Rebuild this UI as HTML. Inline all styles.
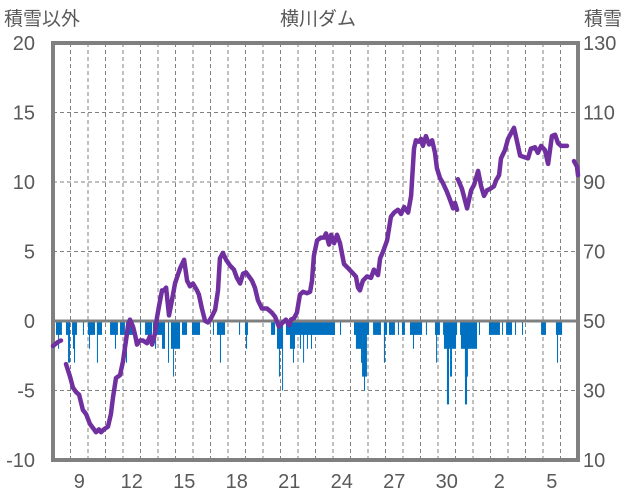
<!DOCTYPE html>
<html><head><meta charset="utf-8"><style>
body{margin:0;background:#fff;}
svg{display:block;font-family:"Liberation Sans","Noto Sans CJK JP",sans-serif;}
</style></head><body>
<svg id="chart" width="636" height="501">
<text x="4" y="25" font-size="19" fill="#595959">積雪以外</text>
<text x="318" y="25" font-size="19" fill="#595959" text-anchor="middle">横川ダム</text>
<text x="584" y="25" font-size="19" fill="#595959">積雪</text>
<g id="grid"></g><g id="bars"></g><g id="axes"></g><g id="line"></g><g id="labels"></g>
</svg>
<script>
const xTickLabels=["9","12","15","18","21","24","27","30","2","5"];
const xTickDays=[1,4,7,10,13,16,19,22,25,28];
const leftTicks=[20,15,10,5,0,-5,-10];
const rightTicks=[130,110,90,70,50,30,10];
const barStart=[0.17,0.29,0.74,0.86,1.09,1.14,1.2,1.71,2.0,2.06,2.51,2.51,3.26,3.54,3.83,4.17,4.29,4.97,5.26,5.71,5.83,6.23,6.57,6.74,6.86,7.37,7.94,9.14,9.37,9.54,10.63,10.97,11.03,12.46,12.8,12.91,13.09,13.31,13.54,13.71,14.11,14.29,14.51,14.74,15.83,16.4,17.2,17.31,17.6,17.66,17.77,18.29,18.91,18.91,19.2,19.71,19.94,20.4,20.57,21.31,21.83,21.89,22.29,22.34,22.51,22.69,23.26,23.31,23.54,23.54,24.34,24.91,25.66,25.89,26.4,26.8,27.89,28.74,28.8,29.89];
const barEnd=[0.51,0.34,0.97,0.97,1.37,1.2,1.26,1.77,2.4,2.11,2.8,2.57,3.71,3.6,4.11,4.23,4.57,5.03,5.66,6.4,5.89,6.4,6.63,7.26,6.91,7.66,8.4,9.2,9.83,9.6,10.69,11.14,11.09,12.69,13.14,12.97,13.14,16.11,13.83,13.77,14.17,14.34,14.57,14.8,16.11,16.46,18.06,17.66,17.66,17.94,17.83,18.74,19.09,18.97,19.54,19.77,20.11,21.09,20.63,21.37,22.11,21.94,23.09,23.03,22.63,22.8,24.23,24.23,23.71,23.66,24.4,25.54,25.71,26.23,26.46,26.86,28.17,29.09,28.86,30];
const barValue=[-1,-2,-1,-3,-1,-2,-3,-1,-1,-2,-1,-3,-1,-2,-1,-3,-1,-1,-1,-1,-2,-2,-3,-2,-4,-1,-1,-1,-1,-3,-1,-1,-2,-1,-2,-4,-5,-1,-2,-3,-2,-3,-2,-2,-1,-1,-1,-2,-3,-4,-5,-1,-1,-3,-1,-1,-1,-1,-2,-1,-1,-3,-1,-2,-6,-4,-1,-2,-4,-6,-1,-1,-1,-1,-1,-1,-1,-1,-3,-1];
const lineDays=[0,0.29,0.46,null,0.74,0.97,1.14,1.31,1.49,1.71,1.89,2.11,2.34,2.46,2.63,2.74,2.91,3.14,3.31,3.43,3.6,3.83,4.0,4.17,4.29,4.4,4.57,4.69,4.8,4.97,5.14,5.37,5.54,5.66,5.83,5.94,6.06,6.23,6.34,6.46,6.63,6.8,6.97,7.26,7.49,7.66,7.83,8.0,8.23,8.34,8.51,8.69,8.86,9.03,9.26,9.43,9.54,9.71,9.89,10.11,10.34,10.51,10.69,10.86,11.03,11.2,11.37,11.54,11.71,11.94,12.23,12.51,12.69,12.91,13.14,13.31,13.49,13.6,13.77,13.94,14.11,14.29,14.51,14.69,14.8,14.91,15.09,15.31,15.49,15.6,15.77,15.89,16.06,16.23,16.4,16.63,16.86,17.09,17.31,17.43,17.54,17.71,17.94,18.17,18.34,18.57,18.69,18.86,19.09,19.31,19.49,19.71,19.89,20.06,20.29,20.46,20.63,20.74,20.91,21.03,21.14,21.31,21.49,21.66,21.83,21.94,22.11,22.29,22.51,22.69,22.86,22.97,23.09,null,23.14,23.37,23.54,23.66,23.89,24.06,24.29,24.46,24.63,24.8,24.97,25.2,25.31,25.49,25.6,25.83,26.0,26.34,26.57,26.69,26.91,27.14,27.31,27.54,27.71,27.89,28.11,28.29,28.51,28.69,28.86,29.03,29.37,null,29.77,29.94,30.0];
const lineValues=[-1.8,-1.5,-1.4,null,-3.1,-4.0,-4.8,-5.1,-5.3,-6.4,-6.7,-7.4,-7.8,-8.0,-7.8,-8.0,-7.8,-7.6,-6.7,-5.5,-4.1,-3.9,-2.9,-1.4,-0.3,0.1,-0.4,-1.0,-1.7,-1.4,-1.4,-1.6,-1.1,-1.7,-0.9,0.2,1.1,2.2,2.2,2.4,0.4,1.5,2.7,3.8,4.4,2.9,2.5,2.7,2.2,1.9,0.9,0,-0.1,0.2,0.8,2.2,4.5,4.9,4.4,4.0,3.7,3.1,2.7,3.4,3.5,3.2,2.9,2.4,1.5,0.9,0.9,0.6,0.3,-0.4,-0.1,0.1,-0.3,0.1,0.2,0.6,1.9,2.1,2.0,2.1,2.9,4.7,5.8,6.0,6.0,6.3,5.5,6.2,5.6,6.2,5.6,4.1,3.8,3.5,3.2,2.4,2.2,2.9,3.2,3.1,3.7,3.3,4.5,5.0,5.8,7.5,7.8,8.0,7.7,8.2,7.8,9.0,12.4,13.0,12.9,13.1,12.6,13.3,12.7,13.0,12.1,11.0,10.3,9.9,9.3,8.7,8.1,8.5,8.0,null,10.2,9.5,8.7,8.1,9.4,9.8,10.8,9.7,9.0,9.4,9.5,9.7,10.1,10.5,11.7,12.3,13.1,13.9,12.6,11.9,11.8,11.7,12.4,12.5,12.1,12.6,12.3,11.3,13.3,13.4,12.8,12.6,12.6,null,11.5,11.1,10.5];

const NS='http://www.w3.org/2000/svg';
const X0=53,X1=578,Y0=43,Y1=460,DAYS=30,VMIN=-10,VMAX=20;
const xs=d=>X0+(X1-X0)*d/DAYS;
const ys=v=>Y1-(Y1-Y0)*(v-VMIN)/(VMAX-VMIN);
function mk(tag,attrs,parent){const e=document.createElementNS(NS,tag);for(const k in attrs)e.setAttribute(k,attrs[k]);document.getElementById(parent).appendChild(e);return e;}

for(let d=1;d<DAYS;d++){
  const g=mk('line',{x1:xs(d),x2:xs(d),y1:Y0,y2:Y1,stroke:'#808080','stroke-width':1,'stroke-dasharray':'4,3'},'grid');
  
  
}
leftTicks.forEach(v=>{
  if(v!==20&&v!==-10&&v!==0){
    const g=mk('line',{x1:X0,x2:X1,y1:ys(v),y2:ys(v),stroke:'#808080','stroke-width':1,'stroke-dasharray':'4,3'},'grid');
    
    
  }
  const t=mk('text',{x:35,y:ys(v)+7,'font-size':20,fill:'#595959','text-anchor':'end'},'labels');
  t.textContent=v;
  
  
});
rightTicks.forEach((v,i)=>{
  const t=mk('text',{x:583,y:ys(leftTicks[i])+7,'font-size':20,fill:'#595959'},'labels');
  t.textContent=v;
  
  
});
xTickLabels.forEach((s,i)=>{
  const t=mk('text',{x:xs(xTickDays[i]+0.5),y:488,'font-size':20,fill:'#595959','text-anchor':'middle'},'labels');
  t.textContent=s;
  
  
});
barStart.forEach((s,i)=>{
  const x=xs(s),w=Math.max(1,xs(barEnd[i])-x);
  const r=mk('rect',{x:x,y:ys(0),width:w,height:ys(barValue[i])-ys(0),fill:'#0070C0'},'bars');
  
  
});
const frame=mk('rect',{x:X0,y:Y0,width:X1-X0,height:Y1-Y0,fill:'none',stroke:'#808080','stroke-width':4},'axes');


const zl=mk('line',{x1:X0,x2:X1,y1:ys(0),y2:ys(0),stroke:'#808080','stroke-width':3},'axes');


let d='',pen=false;
lineDays.forEach((t,i)=>{
  if(t===null||lineValues[i]===null){pen=false;return;}
  d+=(pen?'L':'M')+xs(t).toFixed(1)+','+ys(lineValues[i]).toFixed(1);pen=true;
});
const p=mk('path',{d:d,fill:'none',stroke:'#7030A0','stroke-width':4.5,'stroke-linejoin':'round','stroke-linecap':'round'},'line');


</script>
</body></html>
